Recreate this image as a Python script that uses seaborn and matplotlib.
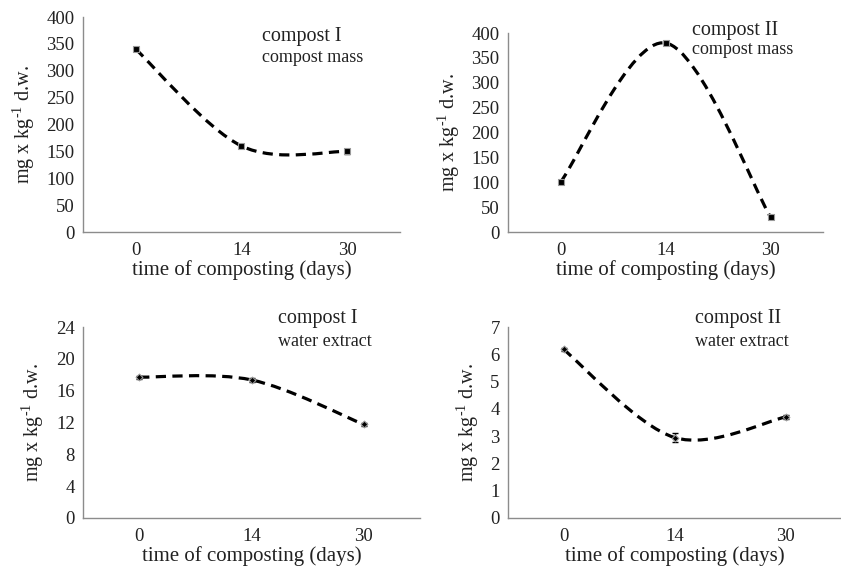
import numpy as np
import matplotlib
matplotlib.use("Agg")
import matplotlib.pyplot as plt
from matplotlib.path import Path
from matplotlib.patches import PathPatch
import seaborn as sns

# categories on the x axis (equally spaced, as in the original category axis)
days = ["0", "14", "30"]

# compost I, compost mass
c1_mass = [340, 160, 150]
c1_mass_err = [4, 4, 4]
# compost II, compost mass
c2_mass = [100, 380, 30]
c2_mass_err = [4, 4, 4]
# compost I, water extract
c1_water = [17.7, 17.35, 11.75]
c1_water_err = [0.2, 0.2, 0.2]
# compost II, water extract
c2_water = [6.18, 2.95, 3.7]
c2_water_err = [0.06, 0.17, 0.06]

sns.set_style("white")
plt.rcParams["font.family"] = ["Liberation Serif", "DejaVu Serif"]
plt.rcParams["mathtext.fontset"] = "custom"
plt.rcParams["mathtext.rm"] = "Liberation Serif"
plt.rcParams["mathtext.it"] = "Liberation Serif:italic"

W, H = 841, 571
fig = plt.figure(figsize=(W / 100, H / 100), dpi=100)


def box(left, top, right, bottom):
    return [left / W, 1 - bottom / H, (right - left) / W, (bottom - top) / H]


def smooth_path(xs, ys):
    # Catmull-Rom style smoothing drawn as cubic Bezier segments
    pts = np.column_stack([xs, ys]).astype(float)
    ext = np.vstack([pts[0], pts, pts[-1]])
    verts = [pts[0]]
    codes = [Path.MOVETO]
    for i in range(len(pts) - 1):
        p0, p1, p2, p3 = ext[i], ext[i + 1], ext[i + 2], ext[i + 3]
        verts += [p1 + (p2 - p0) / 6, p2 - (p3 - p1) / 6, p2]
        codes += [Path.CURVE4] * 3
    return Path(verts, codes)


def panel(rect, vals, errs, ymax, ystep, marker, msize):
    ax = fig.add_axes(rect)
    pos = np.arange(len(days))
    ax.add_patch(PathPatch(smooth_path(pos, vals), fill=False, color="black",
                           lw=2.3, linestyle=(0, (3.2, 2.0)), capstyle="butt"))
    ax.errorbar(pos, vals, yerr=errs, fmt="none", ecolor="black",
                elinewidth=1, capsize=2.5, capthick=1)
    sns.scatterplot(x=pos, y=vals, marker=marker, s=msize, color="black",
                    edgecolor="#9a9a9a", linewidth=0.8, ax=ax, zorder=5)
    ax.set_xlim(-0.5, len(days) - 0.5)
    ax.set_ylim(0, ymax)
    ax.set_xticks(pos)
    ax.set_xticklabels(days)
    ax.set_yticks(np.arange(0, ymax + ystep / 2, ystep))
    for s in ["top", "right"]:
        ax.spines[s].set_visible(False)
    for s in ["left", "bottom"]:
        ax.spines[s].set_color("#8c8c8c")
        ax.spines[s].set_linewidth(1)
    ax.tick_params(axis="y", length=4, width=1, color="#8c8c8c",
                   labelsize=13.5, pad=2, labelcolor="#222222")
    ax.tick_params(axis="x", length=0, labelsize=13.5, pad=7,
                   labelcolor="#222222")
    ax.set_xlabel("time of composting (days)", fontsize=15,
                  color="#222222", labelpad=1)
    ax.set_ylabel(r"mg x kg$^{\text{-1}}$ d.w.", fontsize=14.5,
                  color="#222222", labelpad=7)
    return ax


panel(box(83, 17, 400, 232), c1_mass, c1_mass_err, 400, 50, "s", 16)
panel(box(508, 33, 823, 232), c2_mass, c2_mass_err, 400, 50, "s", 16)
panel(box(83, 327, 420, 518), c1_water, c1_water_err, 24, 4, "D", 12)
panel(box(508, 327, 841, 518), c2_water, c2_water_err, 7, 1, "D", 12)

labels = [
    (262, 36, "compost I", 14.5), (262, 57, "compost mass", 13),
    (692, 30, "compost II", 14.5), (692, 50, "compost mass", 13),
    (278, 319, "compost I", 14.5), (278, 342, "water extract", 13),
    (695, 319, "compost II", 14.5), (695, 342, "water extract", 13),
]
for x, y, t, fs in labels:
    fig.text(x / W, 1 - y / H, t, ha="left", va="center", fontsize=fs,
             color="#222222")

fig.savefig("out.png", dpi=100)
